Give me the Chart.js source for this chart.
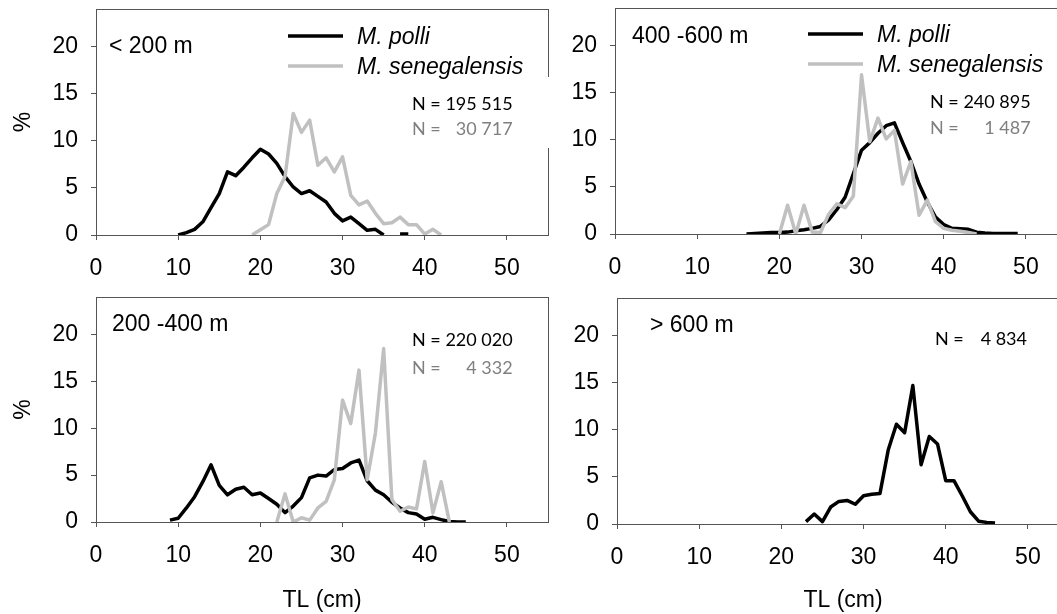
<!DOCTYPE html>
<html lang="en">
<head>
  <meta charset="UTF-8">
  <title>Length frequency by depth stratum</title>
  <style>
    html, body {
      margin: 0;
      padding: 0;
      background: #ffffff;
      width: 1057px;
      height: 614px;
      overflow: hidden;
    }
    canvas {
      position: absolute;
    }
  </style>
</head>
<body>
  <canvas id="p1" width="560" height="290" style="left:0px;top:0px"></canvas>
  <canvas id="p2" width="520" height="290" style="left:560px;top:0px"></canvas>
  <canvas id="p3" width="560" height="324" style="left:0px;top:290px"></canvas>
  <canvas id="p4" width="520" height="324" style="left:560px;top:290px"></canvas>

  <script src="https://cdn.jsdelivr.net/npm/chart.js"></script>

  <script>
    // tick labels
    const xTicks = [0, 10, 20, 30, 40, 50];
    const yTicks = [0, 5, 10, 15, 20];

    // < 200 m
    const tlPolli200 = [10, 11, 12, 13, 14, 15, 16, 17, 18, 19, 20, 21, 22, 23, 24, 25, 26, 27, 28, 29, 30, 31, 32, 33, 34, 35, 36, 37, 38];
    const pctPolli200 = [0, 0.25, 0.6, 1.4, 2.9, 4.4, 6.7, 6.3, 7.2, 8.2, 9.1, 8.6, 7.6, 6.2, 5.1, 4.4, 4.7, 4.1, 3.5, 2.3, 1.5, 1.9, 1.2, 0.5, 0.6, 0, null, 0.1, 0.1];
    const tlSeneg200 = [19, 20, 21, 22, 23, 24, 25, 26, 27, 28, 29, 30, 31, 32, 33, 34, 35, 36, 37, 38, 39, 40, 41, 42];
    const pctSeneg200 = [0, 0.55, 1.1, 4.4, 6.2, 12.9, 10.9, 12.2, 7.4, 8.2, 6.7, 8.3, 4.2, 3.2, 3.6, 2.3, 1.2, 1.3, 1.9, 1.1, 1.1, 0.1, 0.6, 0];

    // 400 - 600 m
    const tlPolli600 = [16, 17, 18, 19, 20, 21, 22, 23, 24, 25, 26, 27, 28, 29, 30, 31, 32, 33, 34, 35, 36, 37, 38, 39, 40, 41, 42, 43, 44, 45, 46, 47, 48, 49];
    const pctPolli600 = [0, 0.05, 0.1, 0.15, 0.15, 0.2, 0.35, 0.45, 0.6, 0.8, 1.5, 2.6, 3.9, 6.4, 8.9, 9.7, 10.7, 11.5, 11.8, 9.7, 7.7, 5.3, 3.4, 1.8, 1.0, 0.6, 0.55, 0.5, 0.2, 0.1, 0.05, 0.05, 0.05, 0.05];
    const tlSeneg600 = [20, 21, 22, 23, 24, 25, 26, 27, 28, 29, 30, 31, 32, 33, 34, 35, 36, 37, 38, 39, 40, 41, 42, 43, 44];
    const pctSeneg600 = [0, 3.05, 0, 3.05, 0.2, 0.15, 2.1, 3.2, 2.8, 4.0, 16.9, 9.8, 12.3, 10.1, 11.0, 5.3, 7.7, 2.0, 3.6, 1.3, 0.6, 0.4, 0.3, 0.15, 0];

    // 200 - 400 m
    const tlPolli400 = [9, 10, 11, 12, 13, 14, 15, 16, 17, 18, 19, 20, 21, 22, 23, 24, 25, 26, 27, 28, 29, 30, 31, 32, 33, 34, 35, 36, 37, 38, 39, 40, 41, 42, 43, 44, 45];
    const pctPolli400 = [0.2, 0.4, 1.5, 2.7, 4.3, 6.1, 3.9, 2.9, 3.5, 3.7, 2.9, 3.1, 2.5, 1.9, 1.0, 1.7, 2.6, 4.7, 5.0, 4.9, 5.6, 5.7, 6.3, 6.6, 4.4, 3.4, 2.9, 2.1, 1.5, 1.0, 0.85, 0.3, 0.5, 0.25, 0.05, 0, 0];
    const tlSeneg400 = [22, 23, 24, 25, 26, 27, 28, 29, 30, 31, 32, 33, 34, 35, 36, 37, 38, 39, 40, 41, 42, 43];
    const pctSeneg400 = [0, 3.0, 0, 0.45, 0.2, 1.5, 2.2, 4.5, 13.0, 10.5, 16.2, 4.5, 9.5, 18.5, 2.4, 1.15, 1.6, 1.4, 6.45, 0.97, 4.3, 0];

    // > 600 m
    const tlPolliDeep = [23, 24, 25, 26, 27, 28, 29, 30, 31, 32, 33, 34, 35, 36, 37, 38, 39, 40, 41, 42, 43, 44, 45, 46];
    const pctPolliDeep = [0.25, 1.06, 0.25, 1.8, 2.4, 2.5, 2.1, 3.0, 3.15, 3.25, 7.85, 10.6, 9.7, 14.7, 6.3, 9.3, 8.5, 4.6, 4.6, 3.0, 1.3, 0.3, 0.17, 0.1];

    const polliColor = '#000000';
    const senegColor = '#c0c0c0';
    const boxColor = '#555555';
    const tickFont = { family: "'Liberation Sans', Arial, sans-serif", size: 23 };
    const nFont = "18px Lato, 'Open Sans', sans-serif";

    function pts(xs, ys) {
      return xs.map((x, i) => ({ x: x, y: ys[i] }));
    }

    // plot frame, legend, depth label and sample sizes
    const panelText = {
      id: 'panelText',
      beforeDatasetsDraw(chart, args, o) {
        const ctx = chart.ctx, a = chart.chartArea;
        ctx.save();
        ctx.strokeStyle = boxColor;
        ctx.lineWidth = 1;
        ctx.strokeRect(Math.round(a.left) + 0.5, Math.round(a.top) + 0.5,
          Math.round(a.right - a.left), Math.round(a.bottom - a.top));
        if (o.mask) {
          ctx.fillStyle = '#ffffff';
          ctx.fillRect(o.mask[0], o.mask[1], o.mask[2], o.mask[3]);
        }
        ctx.restore();
      },
      afterDatasetsDraw(chart, args, o) {
        const ctx = chart.ctx;
        ctx.save();
        ctx.textBaseline = 'middle';
        ctx.textAlign = 'left';
        ctx.fillStyle = '#000';
        ctx.font = "23px 'Liberation Sans', Arial, sans-serif";
        ctx.fillText(o.label, o.labelAt[0], o.labelAt[1]);

        if (o.legend) {
          const L = o.legend;
          ctx.lineWidth = 3.5;
          ctx.strokeStyle = polliColor;
          ctx.beginPath(); ctx.moveTo(L.x0, L.y1); ctx.lineTo(L.x1, L.y1); ctx.stroke();
          ctx.strokeStyle = senegColor;
          ctx.beginPath(); ctx.moveTo(L.x0, L.y2); ctx.lineTo(L.x1, L.y2); ctx.stroke();
          ctx.font = "italic 23px 'Liberation Sans', Arial, sans-serif";
          ctx.fillStyle = '#000';
          ctx.fillText('M. polli', L.tx, L.y1 + 2);
          ctx.fillText('M. senegalensis', L.tx, L.y2 + 2);
        }

        ctx.font = nFont;
        let right = o.nAt[3];
        o.counts.forEach((c, i) => {
          const y = o.nAt[1] + i * o.nAt[2];
          ctx.fillStyle = c.color;
          ctx.textAlign = 'left';
          if (c.joined) {
            const s = 'N = ' + c.n;
            ctx.fillText(s, o.nAt[0], y);
            right = o.nAt[0] + ctx.measureText(s).width;
          } else {
            ctx.fillText('N =', o.nAt[0], y);
            ctx.textAlign = 'right';
            ctx.fillText(c.n, right, y);
          }
        });
        ctx.restore();
      }
    };

    function xScale(h, showTitle) {
      return {
        type: 'linear', min: 0, max: 55,
        afterBuildTicks: s => { s.ticks = xTicks.map(v => ({ value: v })); },
        afterFit: s => {
          s.height = h;
          s.paddingLeft = 0; s.paddingRight = 0; s.paddingTop = 0; s.paddingBottom = 0;
        },
        border: { display: false },
        grid: { drawOnChartArea: false, drawTicks: true, tickLength: 5, color: boxColor },
        ticks: { color: '#000', font: tickFont, padding: 15, maxRotation: 0, autoSkip: false },
        title: { display: showTitle, text: 'TL (cm)', color: '#000', font: tickFont, padding: { top: 0, bottom: 0 } }
      };
    }

    function yScale(w, showTitle) {
      return {
        type: 'linear', min: 0, max: 24,
        afterBuildTicks: s => { s.ticks = yTicks.map(v => ({ value: v })); },
        afterFit: s => {
          s.width = w;
          s.paddingLeft = 0; s.paddingRight = 0; s.paddingTop = 0; s.paddingBottom = 0;
        },
        border: { display: false },
        grid: { drawOnChartArea: false, drawTicks: true, tickLength: 5, color: boxColor },
        ticks: { color: '#000', font: tickFont, padding: 13, autoSkip: false },
        title: { display: showTitle, text: '%', color: '#000', font: tickFont, padding: { top: 10, bottom: 0 } }
      };
    }

    function line(data, color, order) {
      return {
        data: data, borderColor: color, backgroundColor: color,
        borderWidth: 3.5, pointRadius: 0, tension: 0, spanGaps: false,
        borderJoinStyle: 'round', order: order
      };
    }

    function makePanel(id, datasets, pad, yw, xh, showX, showY, text) {
      return new Chart(document.getElementById(id), {
        type: 'line',
        data: { datasets: datasets },
        options: {
          responsive: false,
          animation: false,
          devicePixelRatio: 1,
          layout: { padding: pad },
          scales: { x: xScale(xh, showX), y: yScale(yw, showY) },
          plugins: { legend: { display: false }, tooltip: { enabled: false }, panelText: text }
        },
        plugins: [panelText]
      });
    }

    makePanel('p1', [
      line(pts(tlPolli200, pctPolli200), polliColor, 1),
      line(pts(tlSeneg200, pctSeneg200), senegColor, 0)
    ], { left: 0, top: 9, right: 12, bottom: 0 }, 96, 55, false, true, {
      label: '< 200 m', labelAt: [109, 47],
      legend: { x0: 288, x1: 343, y1: 36, y2: 66, tx: 357 },
      mask: [405, 77, 150, 71],
      nAt: [412, 104, 25, 514],
      counts: [{ n: '195 515', color: '#000', joined: true }, { n: '30 717', color: '#7f7f7f' }]
    });

    makePanel('p2', [
      line(pts(tlPolli600, pctPolli600), polliColor, 1),
      line(pts(tlSeneg600, pctSeneg600), senegColor, 0)
    ], { left: 0, top: 8, right: 13, bottom: 0 }, 55, 56, false, false, {
      label: '400 -600 m', labelAt: [72, 37],
      legend: { x0: 248, x1: 303, y1: 34, y2: 64, tx: 317 },
      mask: [365, 77, 160, 71],
      nAt: [370, 102, 26, 472],
      counts: [{ n: '240 895', color: '#000', joined: true }, { n: '1 487', color: '#7f7f7f' }]
    });

    makePanel('p3', [
      line(pts(tlPolli400, pctPolli400), polliColor, 1),
      line(pts(tlSeneg400, pctSeneg400), senegColor, 0)
    ], { left: 0, top: 7, right: 12, bottom: 0 }, 96, 92, true, true, {
      label: '200 -400 m', labelAt: [112, 35],
      legend: null,
      nAt: [412, 50, 28, 514],
      counts: [{ n: '220 020', color: '#000', joined: true }, { n: '4 332', color: '#7f7f7f' }]
    });

    makePanel('p4', [
      line(pts(tlPolliDeep, pctPolliDeep), polliColor, 1)
    ], { left: 0, top: 8, right: 11, bottom: 0 }, 57, 90, true, false, {
      label: '> 600 m', labelAt: [90, 36],
      legend: null,
      nAt: [375, 49, 0, 467],
      counts: [{ n: '4 834', color: '#000' }]
    });
  </script>
</body>
</html>
